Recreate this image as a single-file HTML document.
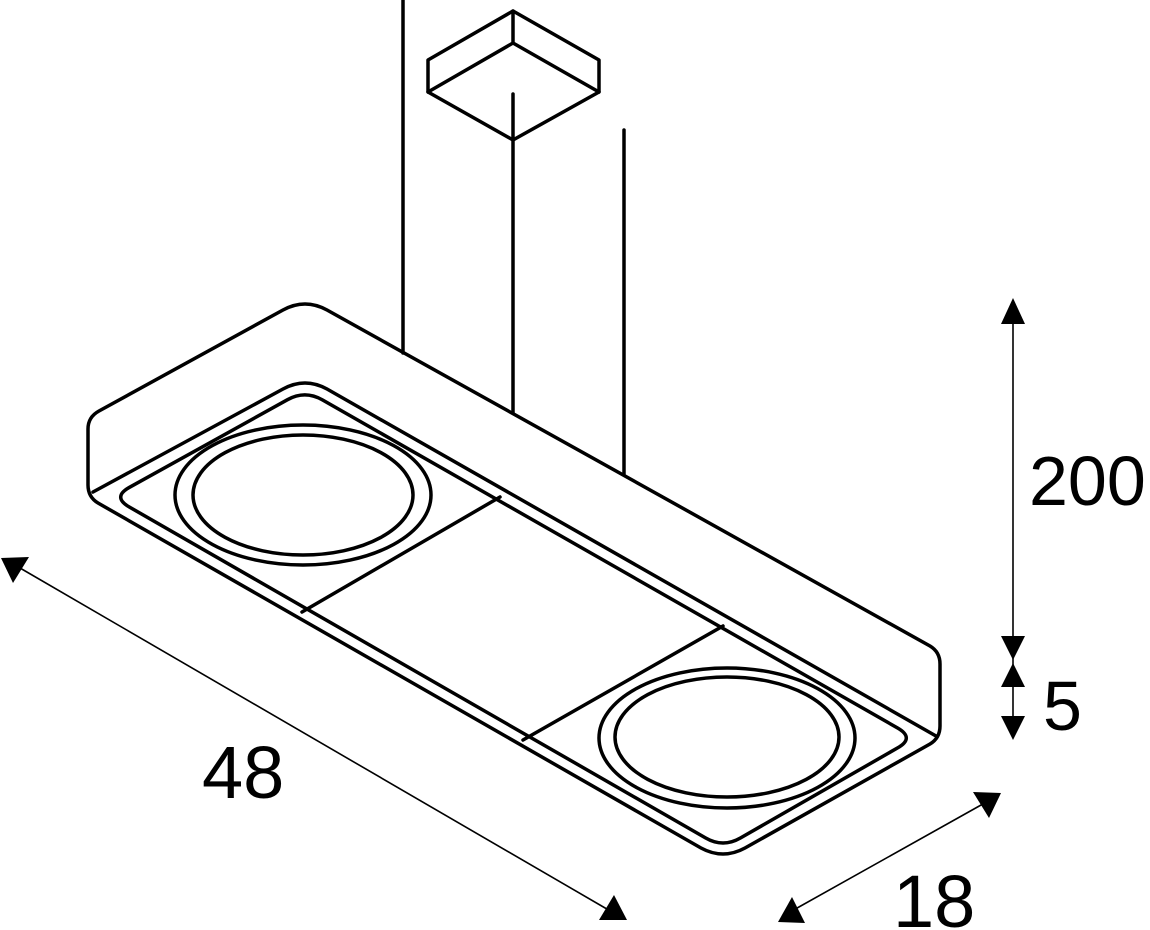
<!DOCTYPE html>
<html><head><meta charset="utf-8"><style>
html,body{margin:0;padding:0;background:#fff;}
svg{display:block;}
text{font-family:"Liberation Sans",Arial,sans-serif;fill:#000;}
</style></head><body>
<svg width="1150" height="930" viewBox="0 0 1150 930" xmlns="http://www.w3.org/2000/svg">
<g fill="none" stroke="#000" stroke-width="3.5" stroke-linejoin="round" stroke-linecap="round">
  <!-- canopy -->
  <path d="M513 11 L428 60 L428 92 L513 140 L599 92 L599 60 Z"/>
  <path d="M513 11 L513 43 M428 92 L513 43 L599 92"/>
  <!-- wires -->
  <line x1="403" y1="0" x2="403" y2="353"/>
  <line x1="513" y1="94" x2="513" y2="413"/>
  <line x1="624" y1="130" x2="624" y2="474"/>
  <!-- outer silhouette -->
  <path d="M99 411 L283 310 Q305 298 327 310 L930 646 Q940 652 940 664 L940 726 Q940 738 930 744 L745 848 Q723 860 701 848 L98 503 Q88 497 88 485 L88 429 Q88 417 99 411 Z"/>
  <!-- outer bottom face upper edges -->
  <path d="M93 492 L283 389 Q305 377 327 389 L936 736"/>
  <!-- inner rim -->
  <path d="M287.5 399.7 Q305 390 322.4 399.9 L897.6 728 Q915 738 897.6 747.9 L740.4 838 Q723 848 705.7 838 L129.3 507 Q112 497 129.5 487.3 Z"/>
  <!-- panel dividers -->
  <line x1="500" y1="497" x2="302" y2="612"/>
  <line x1="723" y1="626" x2="523" y2="740"/>
  <!-- lamps -->
  <ellipse cx="303" cy="495" rx="128" ry="70"/>
  <ellipse cx="303" cy="495" rx="110" ry="60"/>
  <ellipse cx="727" cy="738" rx="128" ry="70"/>
  <ellipse cx="727" cy="737" rx="112" ry="60"/>
</g>
<g stroke="#000" stroke-width="1.6" fill="none">
  <line x1="1013" y1="300" x2="1013" y2="738"/>
  <line x1="20" y1="568" x2="612" y2="912"/>
  <line x1="790" y1="912" x2="990" y2="800"/>
</g>
<g fill="#000">
  <polygon points="1013,298 1001,324 1025,324"/>
  <polygon points="1013,660 1001,636 1025,636"/>
  <polygon points="1013,663 1001,687 1025,687"/>
  <polygon points="1013,740 1001,716 1025,716"/>
  <polygon points="1,558 29,557 13,583"/>
  <polygon points="599,920 627,920 614,895"/>
  <polygon points="778,922 805,923 792,897"/>
  <polygon points="973,792 1001,793 989,818"/>
</g>
<text x="1029" y="505" font-size="70">200</text>
<text x="1043" y="730" font-size="70">5</text>
<text x="202" y="798" font-size="74">48</text>
<text x="893" y="927" font-size="74">18</text>
</svg>
</body></html>
